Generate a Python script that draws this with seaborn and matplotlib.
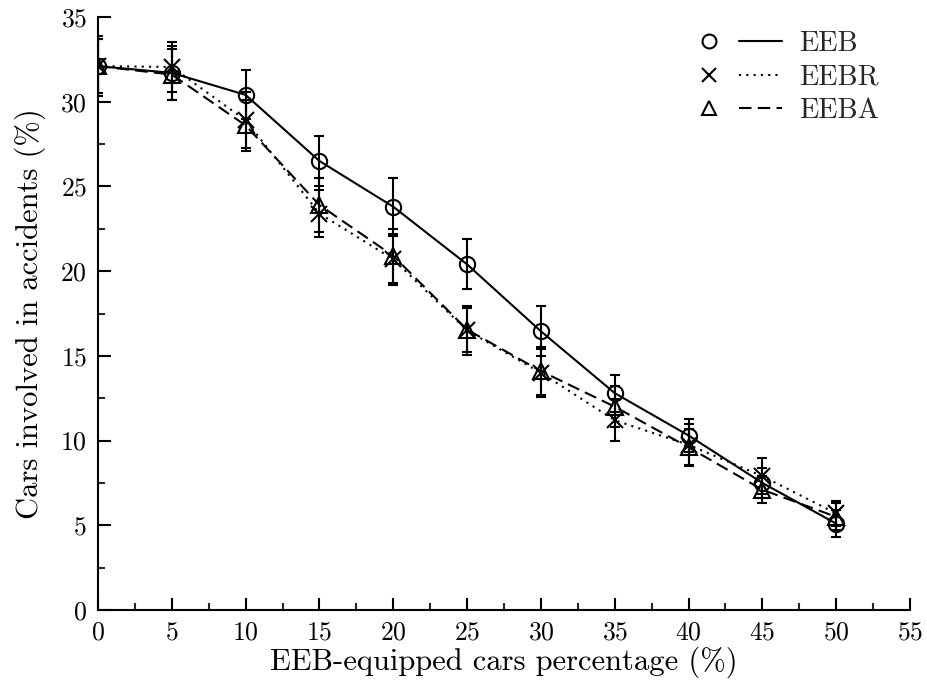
import numpy as np
import pandas as pd
import matplotlib
matplotlib.use("Agg")
import matplotlib.pyplot as plt
import seaborn as sns
from matplotlib.lines import Line2D
from matplotlib.legend_handler import HandlerTuple
from matplotlib.ticker import MultipleLocator

# ---- data ----
pct = [0, 5, 10, 15, 20, 25, 30, 35, 40, 45, 50]
eeb = [32.1, 31.7, 30.4, 26.5, 23.8, 20.4, 16.45, 12.8, 10.3, 7.5, 5.1]
eeb_err = [1.75, 1.6, 1.45, 1.45, 1.7, 1.47, 1.47, 1.1, 1.0, 0.9, 0.8]
eebr = [32.1, 32.05, 28.9, 23.4, 20.7, 16.5, 14.0, 11.2, 9.75, 7.9, 5.7]
eebr_err = [1.6, 1.5, 1.65, 1.4, 1.5, 1.45, 1.4, 1.25, 1.2, 1.05, 0.75]
eeba = [32.1, 31.6, 28.6, 23.9, 20.9, 16.55, 14.1, 12.0, 9.6, 7.1, 5.5]
eeba_err = [1.6, 1.5, 1.5, 1.6, 1.6, 1.3, 1.4, 1.2, 1.1, 0.8, 0.8]
series_names = ["EEB", "EEBR", "EEBA"]
x_label = "EEB-equipped cars percentage (%)"
y_label = "Cars involved in accidents (%)"

sns.set_theme(style="ticks")
plt.rcParams["font.family"] = ["cmr10", "DejaVu Serif"]
plt.rcParams["axes.unicode_minus"] = False
plt.rcParams["axes.formatter.use_mathtext"] = True

df = pd.DataFrame({
    "pct": pct * 3,
    "value": eeb + eebr + eeba,
    "err": eeb_err + eebr_err + eeba_err,
    "series": [s for s in series_names for _ in pct],
})

fig = plt.figure(figsize=(9.27, 6.9), dpi=100)
ax = fig.add_axes([0.1057, 0.1159, 0.876, 0.8595])

LW = 1.5
styles = {
    "EEB": dict(ls="-", marker="o"),
    "EEBR": dict(ls=(0, (1, 2.5)), marker="x"),
    "EEBA": dict(ls=(0, (6, 3)), marker="^"),
}

sns.lineplot(data=df, x="pct", y="value", hue="series", style="series",
             palette=["black"] * 3,
             dashes={"EEB": "", "EEBR": (1, 2.5), "EEBA": (6, 3)},
             markers={"EEB": "o", "EEBR": "X", "EEBA": "^"},
             ax=ax, legend=False, lw=LW, errorbar=None)

for line, name in zip(ax.lines[:3], series_names):
    m = styles[name]["marker"]
    line.set_marker(m)
    line.set_markersize(11)
    line.set_markerfacecolor("none")
    line.set_markeredgecolor("black")
    line.set_markeredgewidth(LW)

for name in series_names:
    sub = df[df["series"] == name]
    ax.errorbar(sub["pct"], sub["value"], yerr=sub["err"], fmt="none",
                ecolor="black", elinewidth=LW, capsize=3.5, capthick=LW, zorder=3)

ax.set_xlim(0, 55)
ax.set_ylim(0, 35)
ax.xaxis.set_major_locator(MultipleLocator(5))
ax.xaxis.set_minor_locator(MultipleLocator(2.5))
ax.yaxis.set_major_locator(MultipleLocator(5))
ax.yaxis.set_minor_locator(MultipleLocator(2.5))
ax.tick_params(which="major", direction="in", length=9, width=LW, labelsize=18.5, pad=8, colors="black")
ax.tick_params(which="minor", direction="in", length=5, width=LW)
sns.despine(ax=ax)
for sp in ["left", "bottom"]:
    ax.spines[sp].set_linewidth(LW)
    ax.spines[sp].set_color("black")
ax.set_xlabel(x_label, fontsize=22, color="black", labelpad=1)
ax.set_ylabel(y_label, fontsize=22, color="black", labelpad=10)

handles = []
for name in series_names:
    st = styles[name]
    mk = Line2D([], [], ls="none", marker=st["marker"], color="black",
                markerfacecolor="none", markersize=10, markeredgewidth=LW)
    ln = Line2D([], [], ls=st["ls"], color="black", lw=LW)
    handles.append((mk, ln))
ax.legend(handles, series_names, handler_map={tuple: HandlerTuple(ndivide=None, pad=0.3)},
          loc="upper right", bbox_to_anchor=(0.993, 1.02), frameon=False,
          fontsize=20.5, handlelength=3.3, handletextpad=0.6, labelspacing=0.25)

fig.savefig("out.png", dpi=100)
